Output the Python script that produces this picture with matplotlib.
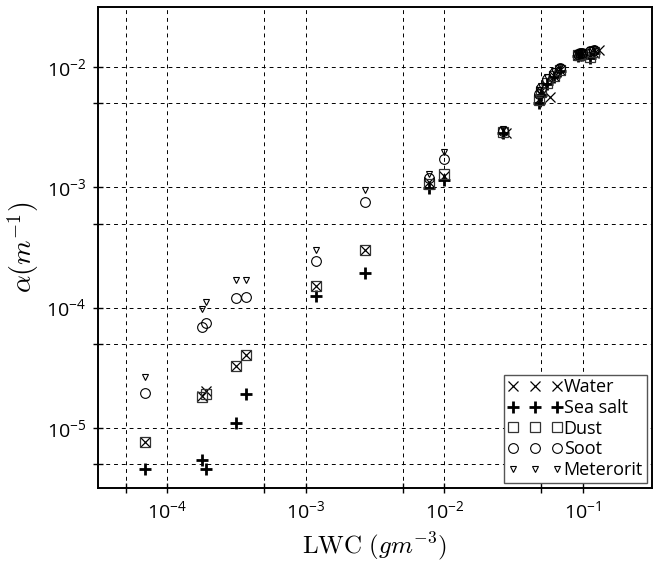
import numpy as np
import matplotlib
matplotlib.use("Agg")
import matplotlib.pyplot as plt
from matplotlib.ticker import FixedLocator, NullFormatter, FuncFormatter

plt.rcParams['font.family'] = ['Open Sans', 'DejaVu Sans']
plt.rcParams['mathtext.fontset'] = 'custom'
plt.rcParams['mathtext.rm'] = 'Open Sans'
plt.rcParams['mathtext.it'] = 'Open Sans:italic'

# LWC (g/m^3) shared by most series
lwc = [6.9e-5, 1.77e-4, 1.90e-4, 3.16e-4, 3.68e-4, 1.19e-3, 2.69e-3, 7.8e-3,
       9.9e-3, 2.65e-2, 4.8e-2, 5.0e-2, 5.5e-2, 6.2e-2, 6.9e-2,
       9.2e-2, 9.5e-2, 9.8e-2, 1.12e-1, 1.2e-1]
lwc_water = [6.9e-5, 1.77e-4, 1.90e-4, 3.16e-4, 3.68e-4, 1.19e-3, 2.69e-3, 7.8e-3,
             9.9e-3, 2.8e-2, 4.8e-2, 5.0e-2, 5.8e-2, 6.2e-2, 6.9e-2,
             9.2e-2, 9.5e-2, 9.8e-2, 1.2e-1, 1.32e-1]

water = [7.6e-6, 1.85e-5, 2.02e-5, 3.3e-5, 4.0e-5, 1.5e-4, 3.0e-4, 1.1e-3,
         1.25e-3, 2.85e-3, 5.4e-3, 6.3e-3, 5.6e-3, 8.5e-3, 9.4e-3,
         1.26e-2, 1.27e-2, 1.29e-2, 1.32e-2, 1.38e-2]
sea_salt = [4.55e-6, 5.44e-6, 4.55e-6, 1.09e-5, 1.9e-5, 1.25e-4, 1.93e-4, 9.8e-4,
            1.16e-3, 2.85e-3, 5.0e-3, 5.9e-3, 7.2e-3, 8.3e-3, 9.2e-3,
            1.24e-2, 1.25e-2, 1.26e-2, 1.2e-2, 1.3e-2]
dust = [7.6e-6, 1.81e-5, 1.93e-5, 3.26e-5, 4.0e-5, 1.51e-4, 3.0e-4, 1.06e-3,
        1.29e-3, 2.9e-3, 5.3e-3, 6.2e-3, 7.4e-3, 8.5e-3, 9.4e-3,
        1.25e-2, 1.26e-2, 1.28e-2, 1.21e-2, 1.33e-2]
soot = [1.96e-5, 6.95e-5, 7.5e-5, 1.20e-4, 1.22e-4, 2.42e-4, 7.5e-4, 1.19e-3,
        1.72e-3, 2.95e-3, 6.0e-3, 6.7e-3, 8.0e-3, 9.0e-3, 9.8e-3,
        1.28e-2, 1.3e-2, 1.32e-2, 1.35e-2, 1.4e-2]
meteorit = [2.66e-5, 9.8e-5, 1.11e-4, 1.70e-4, 1.70e-4, 3.02e-4, 9.55e-4, 1.29e-3,
            1.98e-3, 3.05e-3, 6.4e-3, 7.0e-3, 8.3e-3, 9.2e-3, 1.0e-2,
            1.3e-2, 1.32e-2, 1.34e-2, 1.38e-2, 1.42e-2]

xmajor = [1e-4, 1e-3, 1e-2, 1e-1]
xminor = [5e-5, 5e-4, 5e-3, 5e-2]
ymajor = [1e-5, 1e-4, 1e-3, 1e-2]
yminor = [5e-6, 5e-5, 5e-4, 5e-3]

fig = plt.figure(figsize=(6.57, 5.66), dpi=100)
ax = fig.add_axes([98/657, 1-488/566, (652-98)/657, (488-7)/566])

ax.plot(lwc_water, water, 'x', color='k', ms=7, mew=0.9, label='Water')
ax.plot(lwc, sea_salt, '+', color='k', ms=8, mew=2.0, label='Sea salt')
ax.plot(lwc, dust, 's', mfc='none', mec='#333333', ms=7, mew=0.9, label='Dust')
ax.plot(lwc, soot, 'o', mfc='none', mec='k', ms=7, mew=0.8, label='Soot')
ax.plot(lwc, meteorit, 'v', mfc='none', mec='k', ms=5, mew=0.8, label='Meterorit')

ax.set_xscale('log')
ax.set_yscale('log')
ax.set_xlim(10**-4.5, 10**-0.5)
ax.set_ylim(10**-5.5, 10**-1.5)

ax.xaxis.set_major_locator(FixedLocator(xmajor))
ax.xaxis.set_minor_locator(FixedLocator(xminor))
ax.yaxis.set_major_locator(FixedLocator(ymajor))
ax.yaxis.set_minor_locator(FixedLocator(yminor))
fmt = FuncFormatter(lambda v, p: r'$\mathregular{10^{%d}}$' % int(round(np.log10(v))))
ax.xaxis.set_major_formatter(fmt)
ax.yaxis.set_major_formatter(fmt)
ax.xaxis.set_minor_formatter(NullFormatter())
ax.yaxis.set_minor_formatter(NullFormatter())

ax.grid(True, which='both', color='k', linestyle=(0, (4, 4)), linewidth=0.7)
ax.tick_params(which='both', direction='inout', length=7, width=1.0,
               labelsize=14, top=False, right=False)
ax.tick_params(axis='x', pad=5)
ax.tick_params(axis='y', pad=5)
for s in ax.spines.values():
    s.set_linewidth(1.4)

ax.set_xlabel(r'$\mathrm{LWC}\ (gm^{-3})$', fontsize=18, math_fontfamily='cm', labelpad=6)
ax.set_ylabel(r'$\alpha(m^{-1})$', fontsize=20, math_fontfamily='cm', labelpad=4)

leg = ax.legend(loc='lower right', numpoints=3, handlelength=3.0, handletextpad=0.1,
                fontsize=13, frameon=True, fancybox=False, borderpad=0.2,
                labelspacing=0.15, borderaxespad=0.3, framealpha=1)
leg.get_frame().set_edgecolor('#555555')
leg.get_frame().set_linewidth(1.0)

fig.savefig('out.png', dpi=100)
